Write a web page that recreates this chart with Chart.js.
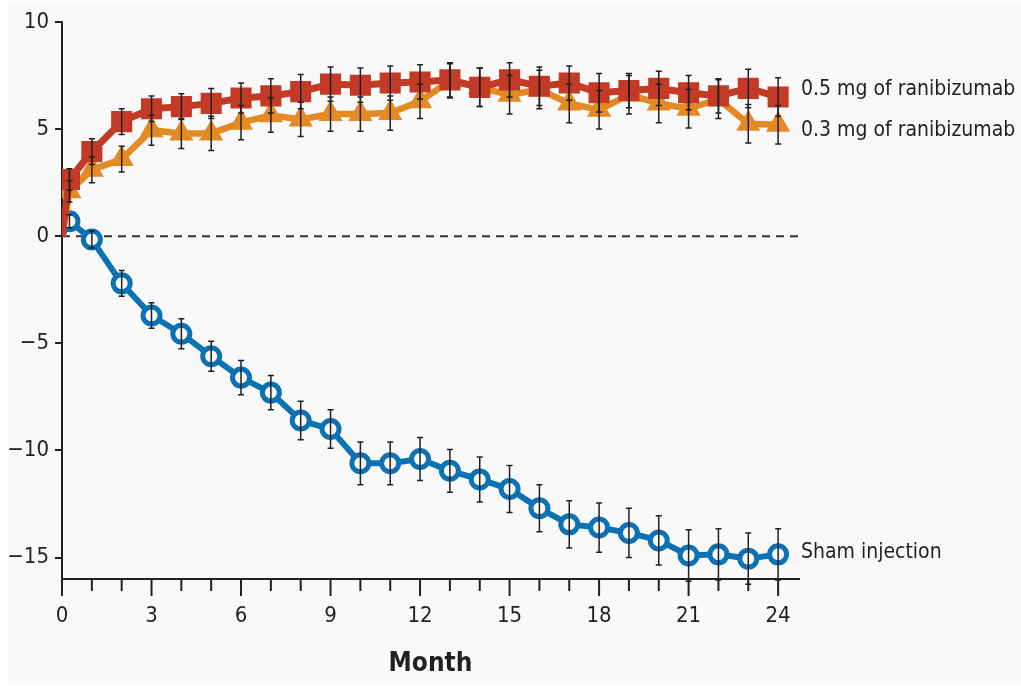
<!DOCTYPE html>
<html>
<head>
<meta charset="utf-8">
<script src="https://cdn.jsdelivr.net/npm/chart.js@4/dist/chart.umd.min.js"></script>
<style>
  html, body { margin: 0; padding: 0; background: #fff; }
  #wrap { width: 1021px; height: 686px; position: relative; }
</style>
</head>
<body>
<div id="wrap"><canvas id="mycanvas"></canvas></div>
<script>
var months = [0, 0.25, 1, 2, 3, 4, 5, 6, 7, 8, 9, 10, 11, 12, 13, 14, 15, 16, 17, 18, 19, 20, 21, 22, 23, 24];

var dose05 = [0, 2.65, 3.95, 5.35, 5.95, 6.05, 6.2, 6.45, 6.55, 6.75, 7.1, 7.05, 7.15, 7.2, 7.3, 6.95, 7.3, 7.0, 7.15, 6.7, 6.8, 6.9, 6.7, 6.55, 6.9, 6.5];
var dose05Err = [0, 0.5, 0.6, 0.6, 0.6, 0.6, 0.7, 0.7, 0.8, 0.8, 0.8, 0.8, 0.8, 0.8, 0.8, 0.9, 0.8, 0.9, 0.8, 0.9, 0.8, 0.8, 0.8, 0.8, 0.9, 0.9];

var dose03 = [0, 2.1, 3.1, 3.6, 4.95, 4.8, 4.8, 5.3, 5.65, 5.45, 5.7, 5.7, 5.75, 6.3, 7.25, 6.95, 6.6, 6.85, 6.2, 5.9, 6.6, 6.2, 5.95, 6.4, 5.25, 5.2];
var dose03Err = [0, 0.5, 0.6, 0.6, 0.7, 0.7, 0.8, 0.8, 0.8, 0.8, 0.8, 0.8, 0.8, 0.8, 0.8, 0.9, 0.9, 0.9, 0.9, 0.9, 0.9, 0.9, 0.9, 0.9, 0.9, 0.9];

var sham = [0, 0.7, -0.15, -2.2, -3.7, -4.55, -5.6, -6.6, -7.3, -8.6, -9.0, -10.6, -10.6, -10.4, -10.95, -11.35, -11.8, -12.7, -13.45, -13.6, -13.85, -14.2, -14.9, -14.85, -15.05, -14.85];
var shamErr = [0, 0.3, 0.4, 0.6, 0.6, 0.7, 0.7, 0.8, 0.8, 0.9, 0.9, 1.0, 1.0, 1.0, 1.0, 1.05, 1.1, 1.1, 1.1, 1.15, 1.15, 1.15, 1.2, 1.2, 1.2, 1.2];

var yTicks = [10, 5, 0, -5, -10, -15];
var xTicks = [0, 1, 2, 3, 4, 5, 6, 7, 8, 9, 10, 11, 12, 13, 14, 15, 16, 17, 18, 19, 20, 21, 22, 23, 24];
var seriesNames = ['0.5 mg of ranibizumab', '0.3 mg of ranibizumab', 'Sham injection'];

var RED = '#c33a26', ORANGE = '#e48a24', BLUE = '#0b72b4', BG = '#f9f9f9', INK = '#231f20';
var FONT = "'DejaVu Sans Condensed', 'Liberation Sans Narrow', sans-serif";

function pts(vals) {
  var out = [];
  for (var i in vals) out.push({x: months[i], y: vals[i]});
  return out;
}
function hideFirst(r) {
  return function(c) { return c.dataIndex === 0 ? 0 : r; };
}

var errs = [dose05Err, dose03Err, shamErr];

var extras = {
  id: 'extras',
  beforeDraw: function(chart) {
    var ctx = chart.ctx;
    ctx.save();
    ctx.fillStyle = BG;
    ctx.fillRect(8, 3, chart.width - 8, chart.height - 6);
    ctx.restore();
  },
  beforeDatasetsDraw: function(chart) {
    var ctx = chart.ctx, a = chart.chartArea;
    var y0 = chart.scales.y.getPixelForValue(0);
    ctx.save();
    ctx.strokeStyle = '#333';
    ctx.lineWidth = 2;
    ctx.setLineDash([8, 6]);
    ctx.beginPath();
    ctx.moveTo(a.left, y0);
    ctx.lineTo(a.right, y0);
    ctx.stroke();
    ctx.restore();
  },
  afterDatasetsDraw: function(chart) {
    var ctx = chart.ctx, xs = chart.scales.x, ys = chart.scales.y, a = chart.chartArea;
    ctx.save();
    ctx.strokeStyle = INK;
    ctx.lineWidth = 1.5;
    chart.data.datasets.forEach(function(ds, d) {
      ds.data.forEach(function(p, i) {
        var e = errs[d][i];
        if (!e) return;
        var x = xs.getPixelForValue(p.x);
        var yt = ys.getPixelForValue(p.y + e), yb = ys.getPixelForValue(p.y - e);
        ctx.beginPath();
        ctx.moveTo(x, yt); ctx.lineTo(x, yb);
        ctx.moveTo(x - 3, yt); ctx.lineTo(x + 3, yt);
        ctx.moveTo(x - 3, yb); ctx.lineTo(x + 3, yb);
        ctx.stroke();
      });
    });
    ctx.restore();

    // x tick marks, longer every 3 months
    ctx.save();
    ctx.strokeStyle = INK;
    ctx.lineWidth = 2;
    xTicks.forEach(function(t) {
      var x = xs.getPixelForValue(t);
      ctx.beginPath();
      ctx.moveTo(x, a.bottom);
      ctx.lineTo(x, a.bottom + (t % 3 === 0 ? 17 : 12));
      ctx.stroke();
    });
    ctx.restore();

    // series labels
    ctx.save();
    ctx.fillStyle = INK;
    ctx.font = '21px ' + FONT;
    ctx.textBaseline = 'middle';
    ctx.textAlign = 'left';
    ctx.fillText(seriesNames[0], a.right + 2, ys.getPixelForValue(6.85));
    ctx.fillText(seriesNames[1], a.right + 2, ys.getPixelForValue(4.95));
    ctx.fillText(seriesNames[2], a.right + 2, ys.getPixelForValue(-14.75));
    ctx.restore();
  }
};

var ctx = document.getElementById('mycanvas');

var chart = new Chart(ctx, {
  type: 'line',
  data: {
    datasets: [
      {
        label: seriesNames[0],
        data: pts(dose05),
        borderColor: RED,
        backgroundColor: RED,
        borderWidth: 7,
        pointStyle: 'rect',
        pointRadius: hideFirst(13.5),
        pointBackgroundColor: RED,
        pointBorderColor: RED,
        pointBorderWidth: 2
      },
      {
        label: seriesNames[1],
        data: pts(dose03),
        borderColor: ORANGE,
        backgroundColor: ORANGE,
        borderWidth: 6.5,
        pointStyle: 'triangle',
        pointRadius: hideFirst(12),
        pointBackgroundColor: ORANGE,
        pointBorderColor: ORANGE,
        pointBorderWidth: 2
      },
      {
        label: seriesNames[2],
        data: pts(sham),
        borderColor: BLUE,
        backgroundColor: BG,
        borderWidth: 6,
        pointStyle: 'circle',
        pointRadius: hideFirst(8.5),
        pointBackgroundColor: BG,
        pointBorderColor: BLUE,
        pointBorderWidth: 5
      }
    ]
  },
  options: {
    responsive: true,
    maintainAspectRatio: false,
    animation: false,
    events: [],
    layout: { padding: { top: 22, right: 222, left: 0, bottom: 0 } },
    plugins: { legend: { display: false }, tooltip: { enabled: false } },
    scales: {
      x: {
        type: 'linear',
        min: 0,
        max: 24.7,
        afterBuildTicks: function(s) { s.ticks = xTicks.map(function(v) { return {value: v}; }); },
        afterFit: function(s) { s.height = 107; },
        grid: { display: false, drawTicks: false },
        border: { display: true, color: INK, width: 2 },
        ticks: {
          autoSkip: false,
          maxRotation: 0,
          padding: 24,
          color: INK,
          font: { family: FONT, size: 22 },
          callback: function(v) { return v % 3 === 0 ? String(v) : ''; }
        },
        title: {
          display: true,
          text: 'Month',
          color: INK,
          font: { family: FONT, size: 26, weight: 'bold' },
          padding: { top: 0, bottom: 6 }
        }
      },
      y: {
        min: -16,
        max: 10,
        afterBuildTicks: function(s) { s.ticks = yTicks.map(function(v) { return {value: v}; }); },
        afterFit: function(s) { s.width = 62; },
        grid: { drawOnChartArea: false, drawTicks: true, tickLength: 7, color: INK, lineWidth: 2 },
        border: { display: true, color: INK, width: 2 },
        ticks: {
          padding: 6,
          color: INK,
          font: { family: FONT, size: 22 },
          callback: function(v) { return v < 0 ? '\u2212' + Math.abs(v) : String(v); }
        }
      }
    }
  },
  plugins: [extras]
});
</script>
</body>
</html>
